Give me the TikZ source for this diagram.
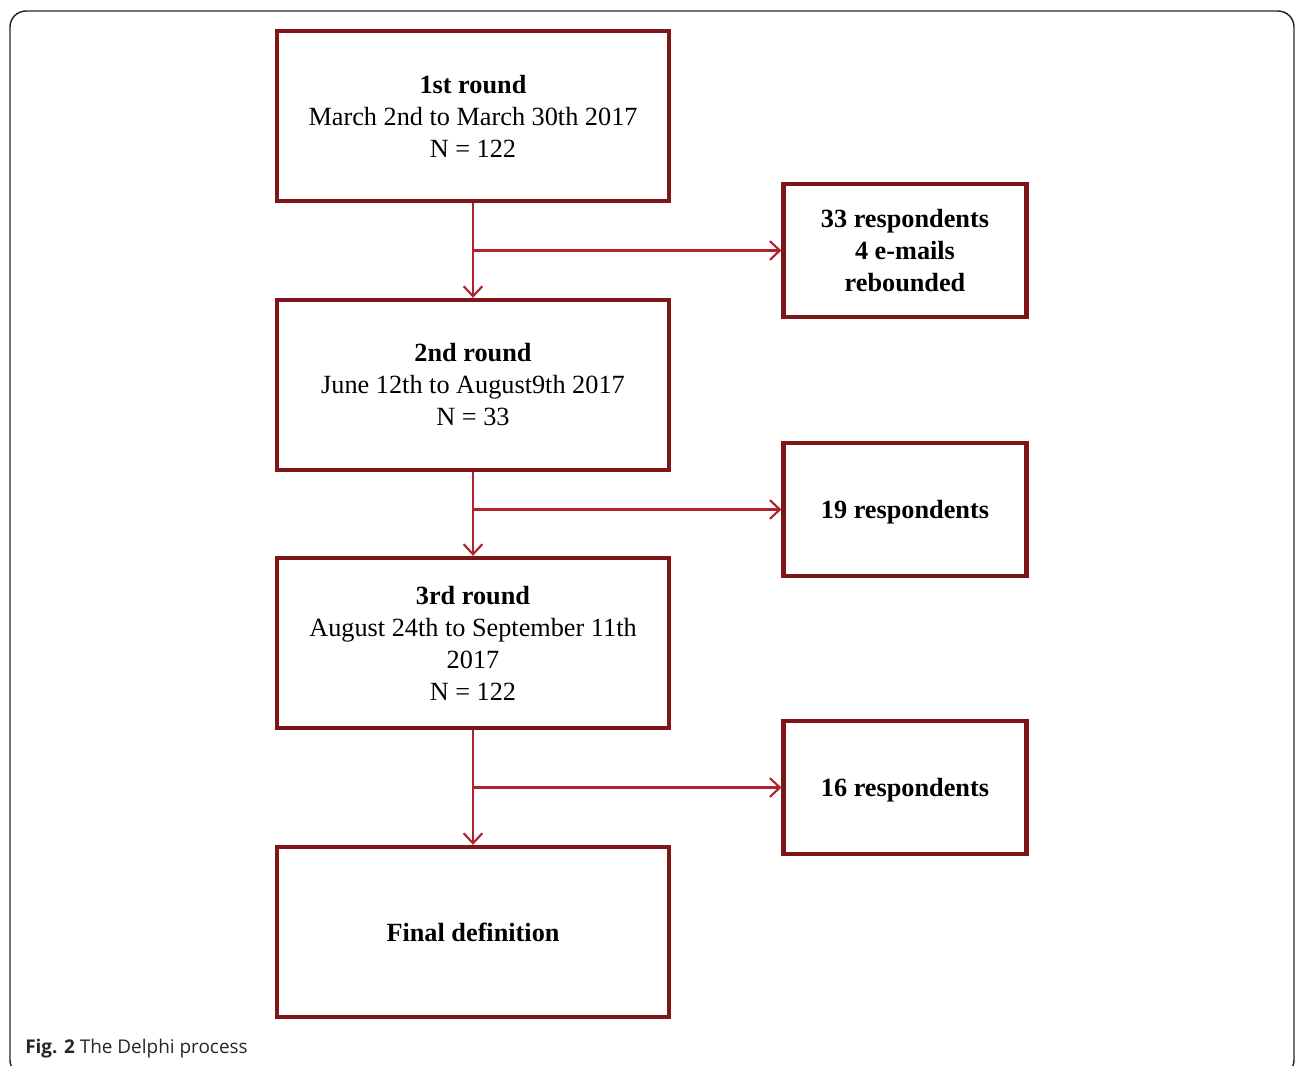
\documentclass[tikz,border=0pt]{standalone}
\usepackage{fontspec}
\setmainfont{Liberation Serif}
\newfontfamily\capfont{Open Sans}
\usetikzlibrary{arrows.meta}
\definecolor{boxred}{HTML}{7E1619}
\definecolor{arrred}{HTML}{B0232A}
\begin{document}
\begin{tikzpicture}[x=0.75pt,y=-0.75pt,
  txt/.style={font=\fontsize{19.7}{24}\selectfont, align=center},
  mainbox/.style={draw=boxred, line width=3.3pt, minimum width=294pt, minimum height=127.5pt, inner sep=0pt, txt},
  sidebox/.style={draw=boxred, line width=3.3pt, minimum width=182pt, minimum height=100pt, inner sep=0pt, txt, font=\fontsize{19.7}{24}\selectfont\bfseries},
  flow/.style={draw=arrred, line width=1.6pt, -{Straight Barb[length=7.5pt,width=14pt,line width=1.6pt]}}]
\useasboundingbox (0,0) rectangle (1296,1065);
\begin{scope}
\clip (0,0) rectangle (1296,1065);
\draw[line width=1.1pt, rounded corners=12pt, black!85] (10,11) rectangle (1294,1076);
\end{scope}
\node[mainbox] (r1) at (473,116) {\textbf{1st round}\\March 2nd to March 30th 2017\\N = 122};
\node[mainbox] (r2) at (473,385) {\textbf{2nd round}\\June 12th to August9th 2017\\N = 33};
\node[mainbox] (r3) at (473,643) {\textbf{3rd round}\\August 24th to September 11th\\2017\\N = 122};
\node[mainbox] (fin) at (473,932) {\textbf{Final definition}};
\node[sidebox] (s1) at (905,250.5) {33 respondents\\4 e-mails\\rebounded};
\node[sidebox, text depth=0pt] (s2) at (905,509.5) {19 respondents};
\node[sidebox, text depth=0pt] (s3) at (905,787.5) {16 respondents};
\draw[flow] (r1.south) -- (r2.north);
\draw[flow] (r2.south) -- (r3.north);
\draw[flow] (r3.south) -- (fin.north);
\coordinate (j1) at (r1.south |- s1.west);
\coordinate (j2) at (r2.south |- s2.west);
\coordinate (j3) at (r3.south |- s3.west);
\draw[flow] (j1) -- (s1.west);
\draw[flow] (j2) -- (s2.west);
\draw[flow] (j3) -- (s3.west);
\node[anchor=base west, inner sep=0pt, font=\capfont\fontsize{14.2}{16}\selectfont, text=black!85] (cap) at (25,1053) {\textbf{Fig. 2} The Delphi process};
\end{tikzpicture}
\end{document}
